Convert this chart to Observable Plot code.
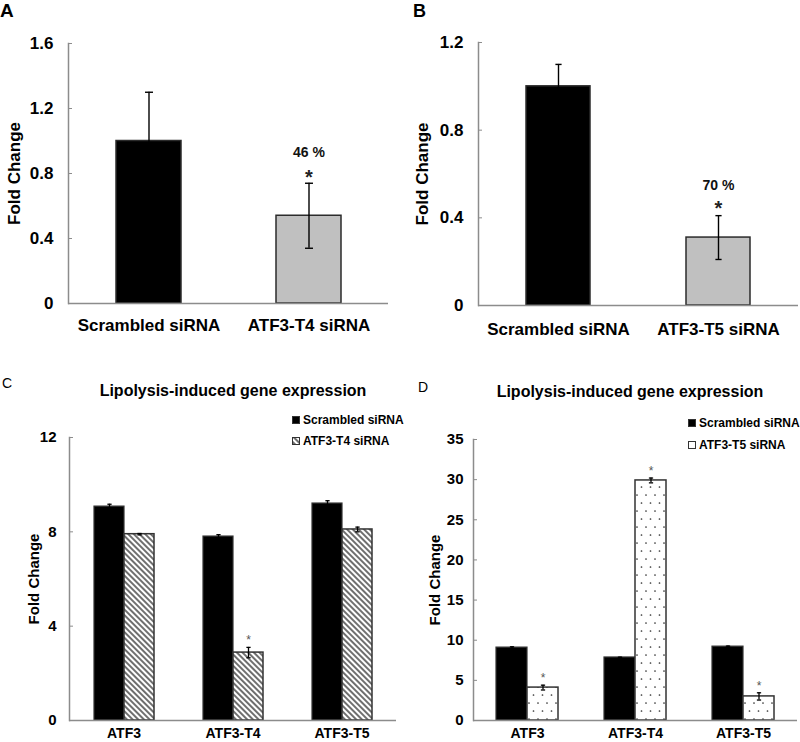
<!DOCTYPE html>
<html><head><meta charset="utf-8">
<script src="https://cdn.jsdelivr.net/npm/d3@7"></script>
<script src="https://cdn.jsdelivr.net/npm/@observablehq/plot@0.6"></script>
<style>
body{margin:0;background:#fff;font-family:"Liberation Sans",Arial,sans-serif;}
#root{position:relative;width:800px;height:742px;overflow:hidden;background:#fff;}
.panel{position:absolute;}
.panel svg{overflow:visible;}
.t{position:absolute;white-space:nowrap;line-height:1;color:#000;}
.b{font-weight:bold;}
.sw{display:inline-block;width:8px;height:8px;box-sizing:border-box;border:1px solid #333;vertical-align:middle;margin-right:3px;position:relative;top:-1px;}
</style></head><body>
<svg width="0" height="0" style="position:absolute">
<defs>
<pattern id="hatch" patternUnits="userSpaceOnUse" width="4" height="4" patternTransform="rotate(-45)">
<rect width="4" height="4" fill="#fff"/>
<line x1="1" y1="0" x2="1" y2="4" stroke="#222" stroke-width="1.3"/>
</pattern>
<pattern id="dots" patternUnits="userSpaceOnUse" width="9" height="16">
<rect width="9" height="16" fill="#fff"/>
<circle cx="2" cy="3" r="0.85" fill="#333"/>
<circle cx="6.5" cy="11" r="0.85" fill="#333"/>
</pattern>
</defs></svg>
<div id="root"></div>
<script>
// ---------- data ----------
const aCategories = ["Scrambled siRNA", "ATF3-T4 siRNA"];
const aValues = [1.0, 0.54];
const aErrors = [0.30, 0.20];
const aNotes = ["", "46 %"];
const aStars = ["", "*"];
const aTicks = [0, 0.4, 0.8, 1.2, 1.6];
const aTickLabels = ["0", "0.4", "0.8", "1.2", "1.6"];

const bCategories = ["Scrambled siRNA", "ATF3-T5 siRNA"];
const bValues = [1.0, 0.31];
const bErrors = [0.10, 0.10];
const bNotes = ["", "70 %"];
const bStars = ["", "*"];
const bTicks = [0, 0.4, 0.8, 1.2];
const bTickLabels = ["0", "0.4", "0.8", "1.2"];

const genes = ["ATF3", "ATF3-T4", "ATF3-T5"];
const cSeries = ["Scrambled siRNA", "ATF3-T4 siRNA"];
const cScrambled = [9.07, 7.8, 9.2];
const cScrambledErr = [0.10, 0.08, 0.12];
const cT4 = [7.9, 2.88, 8.1];
const cT4Err = [0.03, 0.22, 0.10];
const cStars = ["", "*", ""];
const cTicks = [0, 4, 8, 12];
const cTickLabels = ["0", "4", "8", "12"];

const dSeries = ["Scrambled siRNA", "ATF3-T5 siRNA"];
const dScrambled = [9.08, 7.85, 9.2];
const dScrambledErr = [0.10, 0.04, 0.07];
const dT5 = [4.1, 29.9, 3.0];
const dT5Err = [0.30, 0.30, 0.45];
const dStars = ["*", "*", "*"];
const dTicks = [0, 5, 10, 15, 20, 25, 30, 35];
const dTickLabels = ["0", "5", "10", "15", "20", "25", "30", "35"];

const yLabel = "Fold Change";
const titleText = "Lipolysis-induced gene expression";

// ---------- helpers ----------
const AXIS = "#8c8c8c";
const capSymbol = {draw(ctx, size) { const w = Math.sqrt(size) / 2; ctx.moveTo(-w, 0); ctx.lineTo(w, 0); }};
const root = document.getElementById("root");

function place(node, left, top, w, h) {
  const div = document.createElement("div");
  div.className = "panel";
  div.style.left = left + "px"; div.style.top = top + "px";
  if (w) div.style.width = w + "px";
  if (h) div.style.height = h + "px";
  div.appendChild(node);
  root.appendChild(div);
  return div;
}
function text(str, left, top, size, cls, extra) {
  const d = document.createElement("div");
  d.className = "t " + (cls || "");
  d.style.left = left + "px"; d.style.top = top + "px"; d.style.fontSize = size + "px";
  if (extra) Object.assign(d.style, extra);
  d.textContent = str;
  root.appendChild(d);
  return d;
}

function simplePanel(o) {
  const rows = o.cats.map((c, i) => ({cat: c, value: o.vals[i], err: o.errs[i], note: o.notes[i], star: o.stars[i]}));
  const hi = d => d.value + d.err, lo = d => d.value - d.err;
  return Plot.plot({
    width: 400, height: o.height,
    marginTop: o.mt, marginBottom: o.mb, marginLeft: o.ml, marginRight: o.mr,
    style: {fontFamily: "'Liberation Sans', Arial, sans-serif", fontSize: "17px", fontWeight: "bold", color: "#000", background: "transparent"},
    x: {domain: o.cats, paddingInner: o.pad, paddingOuter: o.pad / 2, axis: null},
    y: {domain: o.domain, axis: null},
    color: {domain: o.cats, range: ["#000000", "#c0c0c0"]},
    marks: [
      Plot.barY(rows, {x: "cat", y: "value", fill: "cat", stroke: "#2b2b2b", strokeWidth: 1.5}),
      Plot.ruleX(rows, {x: "cat", y1: lo, y2: hi, stroke: "#000", strokeWidth: 1.4}),
      Plot.dot(rows, {x: "cat", y: hi, symbol: capSymbol, r: o.capR, fill: "none", stroke: "#000", strokeWidth: 1.4}),
      Plot.dot(rows, {x: "cat", y: lo, symbol: capSymbol, r: o.capR, fill: "none", stroke: "#000", strokeWidth: 1.4}),
      Plot.text(rows, {x: "cat", y: hi, text: "note", dy: o.noteDy, fontSize: 14, fill: "#111"}),
      Plot.text(rows, {x: "cat", y: hi, text: "star", dy: o.starDy, fontSize: 20, fill: "#222"}),
      Plot.ruleY([0], {stroke: AXIS, strokeWidth: 1.5}),
      Plot.frame({anchor: "left", stroke: AXIS, strokeWidth: 1.5}),
      Plot.axisY({ticks: o.ticks, tickFormat: (d, i) => o.tickLabels[i], tickSize: -4, tickPadding: 19, stroke: AXIS,
        label: yLabel, labelAnchor: "center", labelOffset: o.labelOffset, labelArrow: "none", fontSize: 17}),
      Plot.axisX({tickSize: 0, tickPadding: o.xPad, label: null, fontSize: 17})
    ]
  });
}

function groupPanel(o) {
  const r1 = genes.map((g, i) => ({gene: g, series: o.series[0], value: o.v1[i], err: o.e1[i], star: ""}));
  const r2 = genes.map((g, i) => ({gene: g, series: o.series[1], value: o.v2[i], err: o.e2[i], star: o.stars[i]}));
  const all = r1.concat(r2);
  const hi = d => d.value + d.err, lo = d => d.value - d.err;
  return Plot.plot({
    width: 400, height: 362,
    marginTop: o.mt, marginBottom: 22, marginLeft: o.ml, marginRight: o.mr,
    style: {fontFamily: "'Liberation Sans', Arial, sans-serif", fontSize: "14px", fontWeight: "bold", color: "#000", background: "transparent"},
    fx: {domain: genes, padding: 0, axis: null},
    x: {domain: o.series, paddingInner: 0, paddingOuter: o.po, axis: null},
    y: {domain: o.domain, axis: null},
    marks: [
      Plot.barY(r1, {fx: "gene", x: "series", y: "value", fill: "#000", stroke: "#333", strokeWidth: 1.2}),
      Plot.barY(r2, {fx: "gene", x: "series", y: "value", fill: o.pattern, stroke: "#333", strokeWidth: 1.5}),
      Plot.ruleX(all, {fx: "gene", x: "series", y1: lo, y2: hi, stroke: "#000", strokeWidth: 1.3}),
      Plot.dot(all, {fx: "gene", x: "series", y: hi, symbol: capSymbol, r: 2.4, fill: "none", stroke: "#000", strokeWidth: 1.3}),
      Plot.dot(all, {fx: "gene", x: "series", y: lo, symbol: capSymbol, r: 2.4, fill: "none", stroke: "#000", strokeWidth: 1.3}),
      Plot.text(r2, {fx: "gene", x: "series", y: hi, text: "star", dy: -7, fontSize: 12, fontWeight: "normal", fill: "#555"}),
      Plot.ruleY([0], {stroke: AXIS, strokeWidth: 1.5}),
      Plot.frame({anchor: "left", facetAnchor: "left", stroke: AXIS, strokeWidth: 1.5}),
      Plot.axisY({ticks: o.ticks, tickFormat: (d, i) => o.tickLabels[i], tickSize: -4, tickPadding: o.yPad, stroke: AXIS,
        label: yLabel, labelAnchor: "center", labelOffset: o.labelOffset, labelArrow: "none", fontSize: 15}),
      Plot.axisFx({anchor: "bottom", tickSize: 0, tickPadding: 8, label: null, fontSize: 14})
    ]
  });
}

// ---------- panels ----------
place(simplePanel({cats: aCategories, vals: aValues, errs: aErrors, notes: aNotes, stars: aStars,
  ticks: aTicks, tickLabels: aTickLabels, domain: [0, 1.6], height: 370, mt: 43, mb: 67, ml: 68, mr: 12,
  pad: 0.594, capR: 4.5, noteDy: -31, starDy: -6, labelOffset: 61, xPad: 15}), 0, 0, 400, 370);

place(simplePanel({cats: bCategories, vals: bValues, errs: bErrors, notes: bNotes, stars: bStars,
  ticks: bTicks, tickLabels: bTickLabels, domain: [0, 1.2], height: 370, mt: 42, mb: 65, ml: 78, mr: 2,
  pad: 0.6, capR: 3.5, noteDy: -30, starDy: -7, labelOffset: 63, xPad: 17}), 400, 0, 400, 370);

place(groupPanel({series: cSeries, v1: cScrambled, e1: cScrambledErr, v2: cT4, e2: cT4Err, stars: cStars,
  ticks: cTicks, tickLabels: cTickLabels, domain: [0, 12], mt: 57, ml: 68, mr: 3, po: 0.77,
  pattern: "url(#hatch)", yPad: 17, labelOffset: 41}), 0, 380, 400, 362);

place(groupPanel({series: dSeries, v1: dScrambled, e1: dScrambledErr, v2: dT5, e2: dT5Err, stars: dStars,
  ticks: dTicks, tickLabels: dTickLabels, domain: [0, 35], mt: 59, ml: 72, mr: 2, po: 0.725,
  pattern: "url(#dots)", yPad: 14, labelOffset: 44}), 400, 380, 400, 362);

// ---------- panel letters, titles, legends ----------
text("A", 0, 1, 19, "b");
text("B", 413, 2, 18, "b");
text("C", 2, 376, 14, "");
text("D", 418, 380, 14, "");
text(titleText, 233, 383, 16, "b", {transform: "translateX(-50%)"});
text(titleText, 630, 384, 16, "b", {transform: "translateX(-50%)"});

function legend(series, swatches, left, tops) {
  series.forEach((s, i) => {
    const row = document.createElement("div");
    row.className = "t b";
    row.style.left = left + "px"; row.style.top = tops[i] + "px"; row.style.fontSize = "12px";
    const sw = document.createElement("span");
    sw.className = "sw";
    sw.innerHTML = `<svg width="6" height="6" style="display:block"><rect width="6" height="6" fill="${swatches[i]}"/></svg>`;
    row.appendChild(sw);
    row.appendChild(document.createTextNode(s));
    root.appendChild(row);
  });
}
legend(cSeries, ["#000", "url(#hatch)"], 292, [414, 435]);
legend(dSeries, ["#000", "#fff"], 688, [417, 439]);
</script>
</body></html>
